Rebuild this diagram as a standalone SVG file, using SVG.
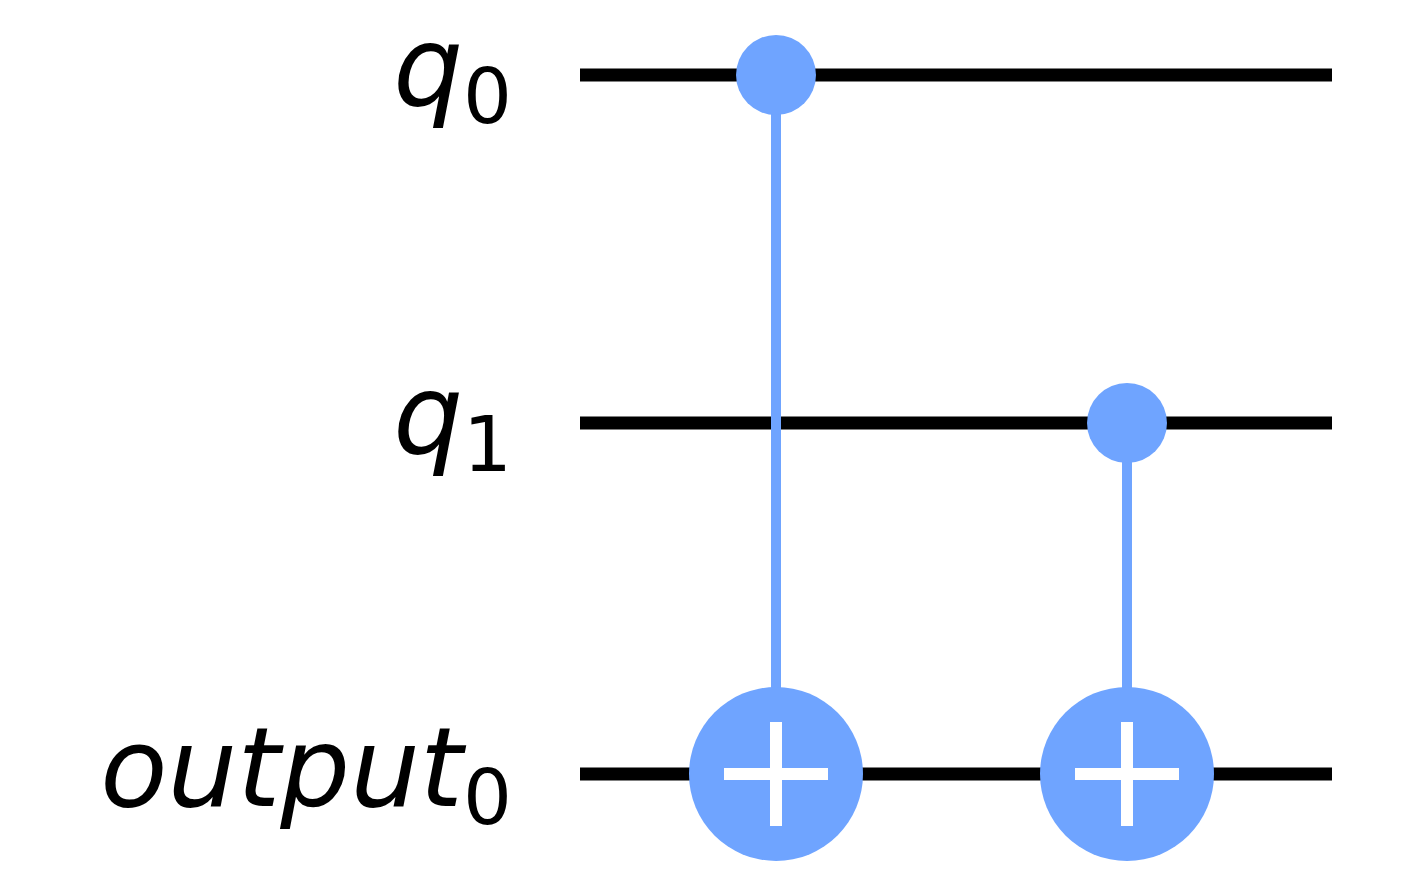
<svg xmlns="http://www.w3.org/2000/svg" width="1408" height="887" viewBox="0 0 1408 887">
<style>
.w{stroke:#000;stroke-width:13}
.c{fill:#6fa4ff}
.v{stroke:#6fa4ff;stroke-width:10}
.p{stroke:#fff;stroke-width:12}
.l{font-family:"DejaVu Sans",sans-serif;font-style:italic;font-size:110px;fill:#000}
.s{font-style:normal;font-size:77px}
</style>
<rect width="1408" height="887" fill="#fff"/>
<g id="labels">
<text class="l" x="512" y="105" text-anchor="end">q<tspan class="s" dy="18">0</tspan></text>
<text class="l" x="512" y="453" text-anchor="end">q<tspan class="s" dy="18">1</tspan></text>
<text class="l" x="512" y="806" text-anchor="end">output<tspan class="s" dy="18">0</tspan></text>
</g>
<g id="wires">
<line class="w" x1="580" y1="75" x2="1332" y2="75"/>
<line class="w" x1="580" y1="423" x2="1332" y2="423"/>
<line class="w" x1="580" y1="774" x2="1332" y2="774"/>
</g>
<g id="connectors">
<line class="v" x1="776" y1="75" x2="776" y2="774"/>
<line class="v" x1="1127" y1="423" x2="1127" y2="774"/>
</g>
<g id="cx1">
<circle class="c" cx="776" cy="75" r="40"/>
<circle class="c" cx="776" cy="774" r="87"/>
<line class="p" x1="724" y1="774" x2="828" y2="774"/>
<line class="p" x1="776" y1="722" x2="776" y2="826"/>
</g>
<g id="cx2">
<circle class="c" cx="1127" cy="423" r="40"/>
<circle class="c" cx="1127" cy="774" r="87"/>
<line class="p" x1="1075" y1="774" x2="1179" y2="774"/>
<line class="p" x1="1127" y1="722" x2="1127" y2="826"/>
</g>
</svg>
